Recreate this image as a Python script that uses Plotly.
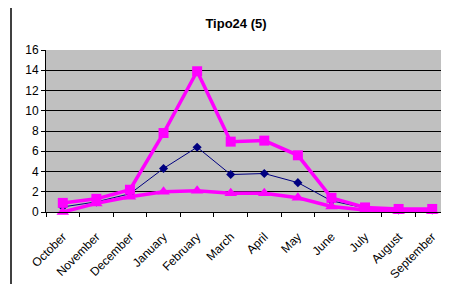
import plotly.graph_objects as go

months = ["October", "November", "December", "January", "February", "March",
          "April", "May", "June", "July", "August", "September"]
series_blue = [0.5, 1.0, 1.8, 4.3, 6.4, 3.7, 3.8, 2.9, 1.1, 0.4, 0.2, 0.2]
series_squares = [0.9, 1.3, 2.2, 7.8, 13.9, 6.95, 7.05, 5.6, 1.4, 0.45, 0.3, 0.3]
series_triangles = [0.0, 0.85, 1.5, 2.0, 2.1, 1.85, 1.85, 1.4, 0.55, 0.2, 0.1, 0.1]
y_ticks = [0, 2, 4, 6, 8, 10, 12, 14, 16]

fig = go.Figure()
fig.add_trace(go.Scatter(x=months, y=series_blue, mode="lines+markers",
                         line=dict(color="#000080", width=1),
                         marker=dict(symbol="diamond", size=7, color="#000080"),
                         showlegend=False, cliponaxis=False))
fig.add_trace(go.Scatter(x=months, y=series_squares, mode="lines+markers",
                         line=dict(color="#FF00FF", width=3.5),
                         marker=dict(symbol="square", size=10, color="#FF00FF"),
                         showlegend=False, cliponaxis=False))
fig.add_trace(go.Scatter(x=months, y=series_triangles, mode="lines+markers",
                         line=dict(color="#FF00FF", width=3.5),
                         marker=dict(symbol="triangle-up", size=11, color="#FF00FF"),
                         showlegend=False, cliponaxis=False))

# page has an 8px body margin; figure coordinates = screen - 8
OFF = 8
W, H = 449 - OFF, 284 - OFF
L, R, T = 46 - OFF, 0, 50 - OFF
B = H - (212 - OFF)
pw, ph = W - L - R, H - T - B

fig.update_layout(
    width=W, height=H,
    margin=dict(l=L, r=R, t=T, b=B, pad=0, autoexpand=False),
    paper_bgcolor="white", plot_bgcolor="#C0C0C0",
    font=dict(family="Liberation Sans, Arial", size=11, color="black"),
    title=dict(text="<b>Tipo24 (5)</b>", x=(236 - OFF) / W, xanchor="center",
               y=1 - (23 - OFF) / H, yanchor="middle",
               font=dict(size=13, family="Liberation Sans, Arial", color="black")),
    xaxis=dict(showgrid=False, showline=True, linecolor="black", linewidth=1,
               ticks="outside", ticklen=4, tickcolor="black", tickson="boundaries",
               tickangle=-45, tickfont=dict(size=12), range=[-0.5, 11.5],
               ticklabelstandoff=12,
               zeroline=False, automargin=False),
    yaxis=dict(range=[0, 16], tickvals=y_ticks, showgrid=True, gridcolor="black",
               gridwidth=1, showline=True, linecolor="black", linewidth=1,
               ticks="outside", ticklen=4, tickcolor="black",
               tickfont=dict(size=12), zeroline=False, automargin=False),
    shapes=[
        dict(type="line", xref="paper", yref="paper",
             x0=(11 - 46) / pw, x1=(11 - 46) / pw, y0=1 + T / ph, y1=-B / ph,
             line=dict(color="black", width=1.5)),
    ],
)

fig.write_html("out.html")
